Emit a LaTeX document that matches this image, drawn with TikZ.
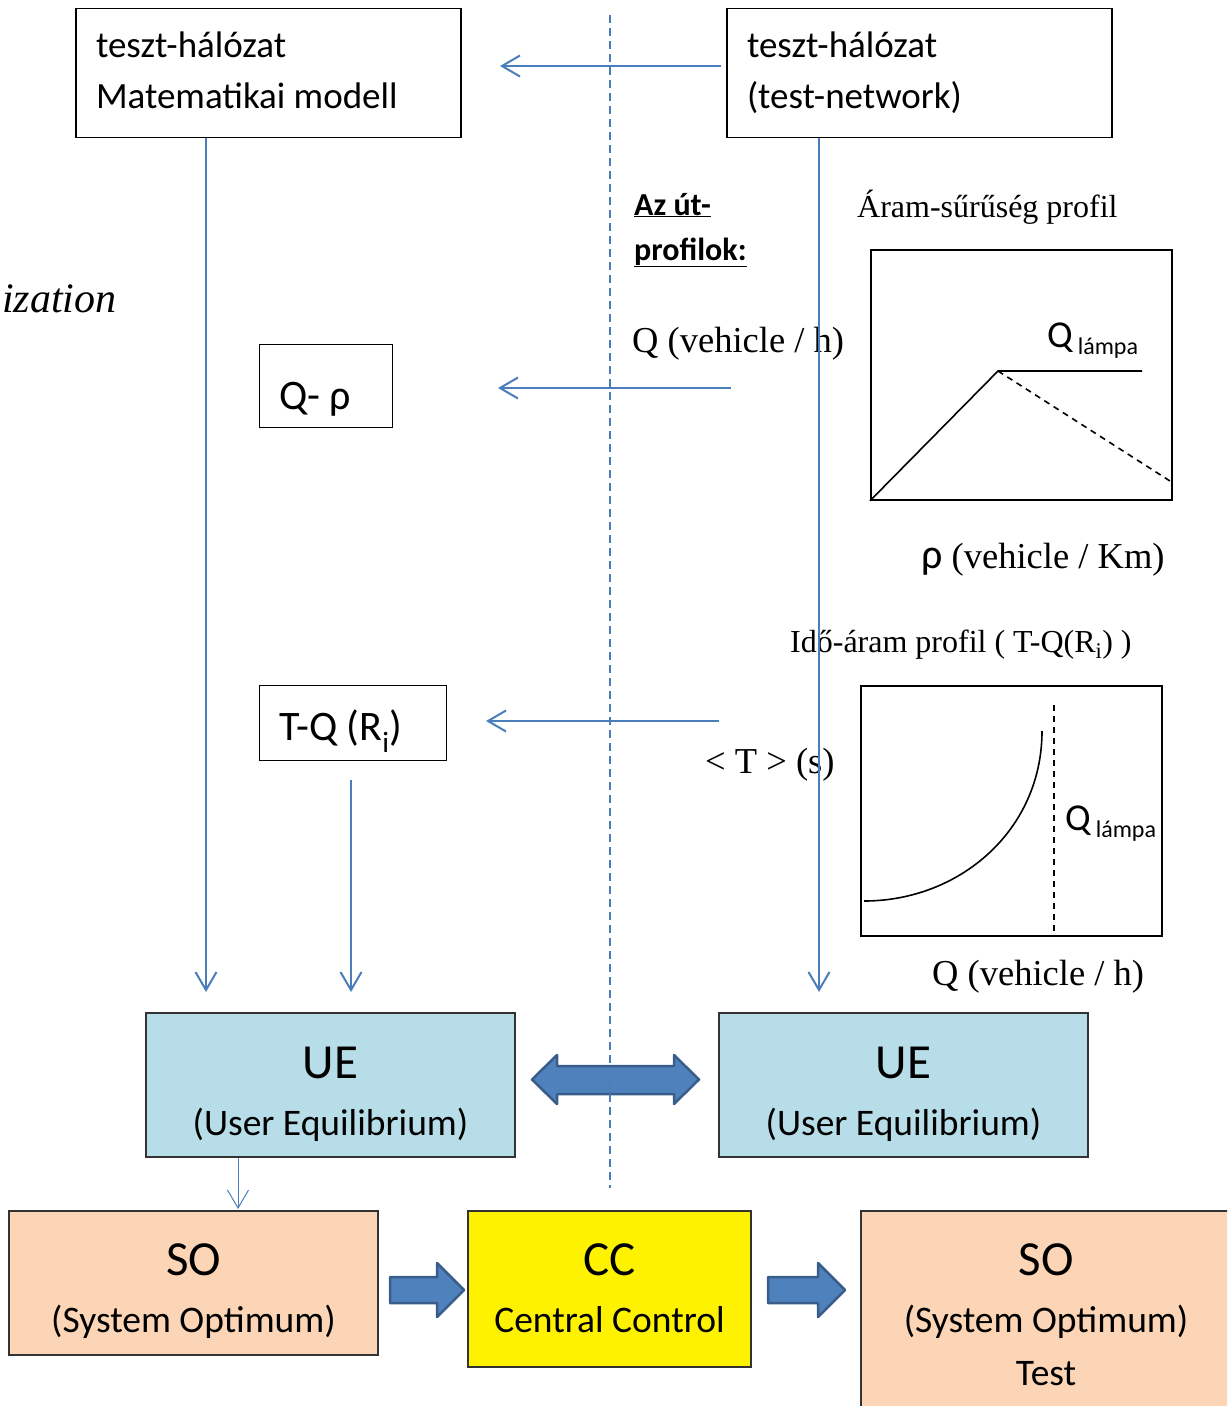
\documentclass[tikz,border=0pt]{standalone}
\usepackage{fontspec}
\setmainfont{Liberation Serif}
\newfontfamily\calibri{Carlito}
\usetikzlibrary{arrows.meta}

\definecolor{linkblue}{HTML}{4A7EBB}
\definecolor{uefill}{HTML}{B7DEE8}
\definecolor{sofill}{HTML}{FBD5B5}
\definecolor{arrowfill}{HTML}{4F81BD}
\definecolor{arrowedge}{HTML}{385D8A}

\begin{document}
\begin{tikzpicture}[x=1pt,y=-1pt,
  box/.style={draw, line width=1.3pt, inner sep=0pt},
  netbox/.style={box, inner xsep=20pt, text width=345pt, align=flush left, font=\calibri\fontsize{37}{51}\selectfont},
  smallbox/.style={box, anchor=north west, inner xsep=20pt, align=flush left, font=\calibri\fontsize{42}{50}\selectfont},
  resbox/.style={box, draw=black!80, align=flush center, font=\calibri\fontsize{37.5}{57}\selectfont},
  plotbox/.style={draw, line width=1.8pt, anchor=north west, minimum width=301pt, minimum height=250pt, inner sep=0pt},
  curve/.style={line width=1.6pt},
  lbl/.style={anchor=base west, inner sep=0pt, font=\fontsize{36.5}{40}\selectfont},
  title/.style={lbl, font=\fontsize{32}{36}\selectfont},
  flow/.style={draw=linkblue, line width=2pt, -{Straight Barb[length=18pt,width=21pt]}},
  blockarrow/.style={draw=arrowedge, fill=arrowfill, line width=2.5pt, line join=round}
]
\clip (0,0) rectangle (1227,1406);

% top boxes
\node[netbox] (netA) at (268.5,73) {\rule{0pt}{48.5pt}teszt-hálózat\\Matematikai modell\rule[-29.5pt]{0pt}{29.5pt}};
\node[netbox] (netB) at (919.5,73) {\rule{0pt}{48.5pt}teszt-hálózat\\(test-network)\rule[-29.5pt]{0pt}{29.5pt}};

\node[smallbox, text width=93pt] (qrho) at (258.5,344) {\rule{0pt}{65pt}Q- ρ\rule[-18pt]{0pt}{18pt}};
\node[smallbox, text width=147pt] (tq) at (258.5,685) {\rule{0pt}{55pt}T-Q (R\textsubscript{i})\rule[-20pt]{0pt}{20pt}};

\node[lbl, font=\itshape\fontsize{42}{46}\selectfont] (optim) at (2,312) {ization};

% profiles
\node[lbl, font=\calibri\bfseries\fontsize{32}{36}\selectfont] (az) at (634,215) {\underline{Az út-}};
\node[lbl, font=\calibri\bfseries\fontsize{32}{36}\selectfont] (prof) at (634,260) {\underline{profilok:}};

\node[title] (titleA) at (857,217) {Áram-sűrűség profil};
\node[lbl] (axQa) at (632,352) {Q (vehicle / h)};
\node[plotbox] (plotA) at (870,249) {};
\draw[curve] (plotA.south west) -- (998,371) -- (1142,371);
\draw[curve, dash pattern=on 6pt off 5pt] (998,371) -- (1170,481);
\node[lbl, font=\calibri\fontsize{38}{40}\selectfont] (lampA) at (1047,347) {Q\hspace{5pt}\raisebox{-7pt}{\fontsize{24}{24}\selectfont lámpa}};
\node[lbl] (axRho) at (921,568) {{\calibri\fontsize{42}{42}\selectfont ρ} (vehicle / Km)};

\node[title] (titleB) at (790,652) {Idő-áram profil ( T-Q(R\textsubscript{i}) )};
\node[lbl] (axT) at (705,773) {< T > (s)};
\node[plotbox] (plotB) at (860,685) {};
\draw[curve] (864,901) .. controls (960,901) and (1042,830) .. (1042,731);
\draw[curve, dash pattern=on 6pt off 5pt] (1054,705) -- (plotB.south -| 1054,0);
\node[lbl, font=\calibri\fontsize{38}{40}\selectfont] (lampB) at (1065,830) {Q\hspace{5pt}\raisebox{-7pt}{\fontsize{24}{24}\selectfont lámpa}};
\node[lbl] (axQb) at (932,985) {Q (vehicle / h)};

% result boxes
\node[resbox, fill=uefill, text width=369pt] (ueA) at (330.5,1085) {\rule{0pt}{65pt}{\fontsize{49}{57}\selectfont UE}\\(User Equilibrium)\rule[-22pt]{0pt}{22pt}};
\node[resbox, fill=uefill, text width=369pt] (ueB) at (903.5,1085) {\rule{0pt}{65pt}{\fontsize{49}{57}\selectfont UE}\\(User Equilibrium)\rule[-22pt]{0pt}{22pt}};
\node[resbox, fill=sofill, text width=369pt] (soA) at (193.5,1283) {\rule{0pt}{64pt}{\fontsize{49}{57}\selectfont SO}\\(System Optimum)\rule[-23pt]{0pt}{23pt}};
\node[resbox, fill=yellow, text width=283pt] (cc) at (609.5,1289) {\rule{0pt}{64pt}{\fontsize{49}{57}\selectfont CC}\\Central Control\rule[-35pt]{0pt}{35pt}};
\node[resbox, fill=sofill, text width=370pt] (soB) at (1046,1315.5) {\rule{0pt}{64pt}{\fontsize{49}{57}\selectfont SO}\\(System Optimum)\\[-4pt]Test\rule[-35pt]{0pt}{35pt}};

% block arrows
\draw[blockarrow] (532,1079.5) -- (557,1055) -- (557,1066) -- (674,1066) -- (674,1055) -- (699,1079.5)
  -- (674,1104) -- (674,1094) -- (557,1094) -- (557,1104) -- cycle;
\draw[blockarrow] (390,1277) -- (437,1277) -- (437,1263) -- (464,1290) -- (437,1317) -- (437,1303) -- (390,1303) -- cycle;
\draw[blockarrow] (768,1277) -- (818,1277) -- (818,1263) -- (845,1290) -- (818,1317) -- (818,1303) -- (768,1303) -- cycle;

% connectors
\coordinate (srcTop) at (721,66);
\coordinate (dstTop) at (500,66);
\coordinate (srcQ) at (731,388);
\coordinate (dstQ) at (498,388);
\coordinate (srcT) at (719,721);
\coordinate (dstT) at (486,721);
\coordinate (inA) at (206,992);
\coordinate (inB) at (819,992);
\coordinate (tqout) at (351,780);
\coordinate (inT) at (351,992);
\coordinate (soin) at (238,1209);

\draw[flow] (srcTop) -- (dstTop);
\draw[flow] (srcQ) -- (dstQ);
\draw[flow] (srcT) -- (dstT);
\draw[flow] (netA.south -| inA) -- (inA);
\draw[flow] (netB.south -| inB) -- (inB);
\draw[flow] (tqout) -- (inT);
\draw[flow, line width=1pt] (ueA.south -| soin) -- (soin);

\draw[linkblue, line width=1.5pt, dash pattern=on 8pt off 5pt] (610,15) -- (610,1188);
\end{tikzpicture}
\end{document}
